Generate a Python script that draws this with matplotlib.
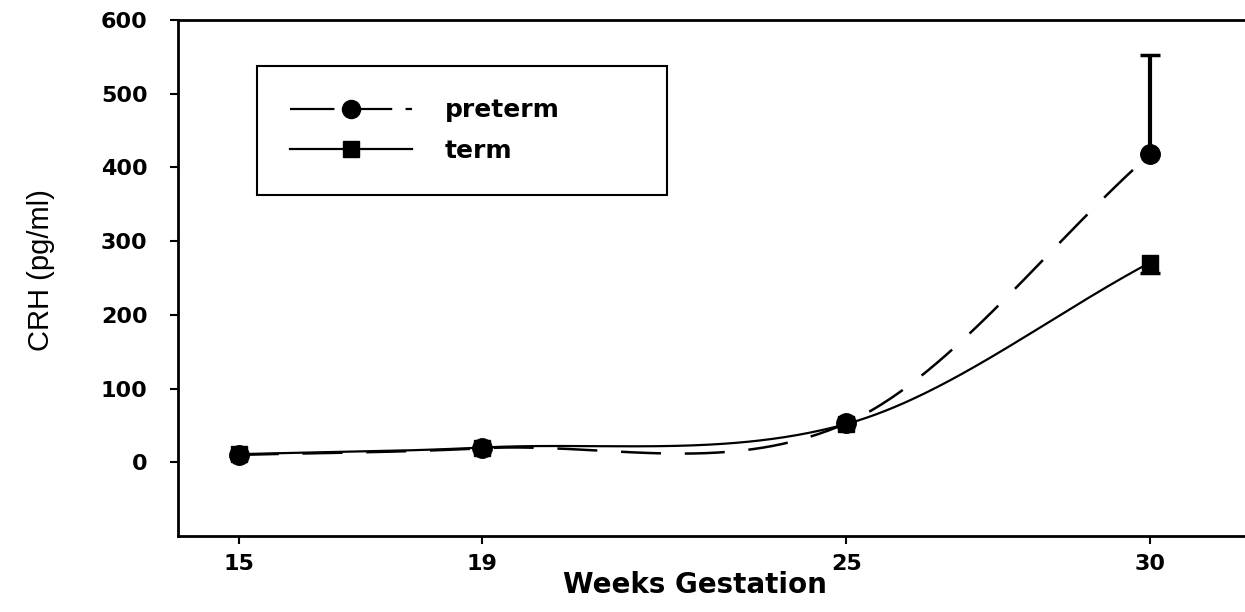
import numpy as np
import matplotlib.pyplot as plt
from matplotlib.lines import Line2D

weeks = [15, 19, 25, 30]
preterm = [10, 19, 53, 418]
term = [11, 20, 52, 271]
# error bars only at week 30: preterm upward, term downward
preterm_err_high = 134
term_err_low = 14

x_ticks = [15, 19, 25, 30]
y_ticks = [0, 100, 200, 300, 400, 500, 600]


def smooth(x, y, n=300):
    # cubic hermite (catmull-rom like) curve through the points
    x = np.asarray(x, float)
    y = np.asarray(y, float)
    m = np.empty_like(y)
    m[1:-1] = (y[2:] - y[:-2]) / (x[2:] - x[:-2])
    m[0] = (y[1] - y[0]) / (x[1] - x[0])
    m[-1] = (y[-1] - y[-2]) / (x[-1] - x[-2])
    xs = np.linspace(x[0], x[-1], n)
    i = np.clip(np.searchsorted(x, xs, side='right') - 1, 0, len(x) - 2)
    h = x[i + 1] - x[i]
    t = (xs - x[i]) / h
    h00 = 2 * t**3 - 3 * t**2 + 1
    h10 = t**3 - 2 * t**2 + t
    h01 = -2 * t**3 + 3 * t**2
    h11 = t**3 - t**2
    ys = h00 * y[i] + h10 * h * m[i] + h01 * y[i + 1] + h11 * h * m[i + 1]
    return xs, ys


W, H = 1245, 612
fig = plt.figure(figsize=(W / 100, H / 100), dpi=100)
ax = fig.add_axes([178 / W, 76 / H, 1 - 178 / W, (536 - 20) / H])

dash = (0, (16, 9.5))

# term: solid curve, squares
xs, ys = smooth(weeks, term)
ax.plot(xs, ys, color='black', lw=1.6, zorder=2)
ax.errorbar(weeks[-1], term[-1], yerr=[[term_err_low], [0]], fmt='none',
            ecolor='black', elinewidth=2, capsize=0, zorder=3)
ax.plot(weeks[-1], term[-1] - term_err_low, marker='_', ms=15, mew=2.5,
        color='black', zorder=3)
ax.plot(weeks, term, 's', ms=11, color='black', zorder=3)

# preterm: dashed curve, circles
xs, ys = smooth(weeks, preterm)
ax.plot(xs, ys, color='black', lw=1.8, ls=dash, zorder=2)
ax.errorbar(weeks[-1], preterm[-1], yerr=[[0], [preterm_err_high]],
            fmt='none', ecolor='black', elinewidth=3, capsize=0, zorder=4)
ax.plot(weeks[-1], preterm[-1] + preterm_err_high, marker='_', ms=15,
        mew=2.5, color='black', zorder=4)
ax.plot(weeks, preterm, 'o', ms=14, color='black', zorder=4)

ax.set_xlim(14.0, 31.56)
ax.set_ylim(-100, 600)
ax.set_xticks(x_ticks)
ax.set_yticks(y_ticks)

for s in ['left', 'bottom', 'top']:
    ax.spines[s].set_linewidth(2)
ax.spines['right'].set_visible(False)

ax.tick_params(axis='both', direction='out', length=6, width=1.5,
               labelsize=16)
ax.tick_params(axis='y', pad=16)
ax.tick_params(axis='x', pad=7)
for lab in ax.get_xticklabels() + ax.get_yticklabels():
    lab.set_fontweight('bold')
    lab.set_family('DejaVu Sans')

ax.set_xlabel('Weeks Gestation', fontsize=20, fontweight='bold',
              family='DejaVu Sans')
ax.xaxis.set_label_coords((695 - 178) / (W - 178), (536 - 571) / 516)
ax.set_ylabel('CRH (pg/ml)', fontsize=21, family='Liberation Sans')
ax.yaxis.set_label_coords((55 - 178) / (W - 178), (536 - 270) / 516)

handles = [
    Line2D([], [], color='black', lw=1.6, ls=(0, (20, 6)), marker='o', ms=13),
    Line2D([], [], color='black', lw=1.6, marker='s', ms=11),
]
leg = ax.legend(handles, ['preterm', 'term'], loc='upper left',
                bbox_to_anchor=(79 / (W - 178), (536 - 66) / 516 - 0.01,
                                410 / (W - 178), 0.01),
                mode='expand', frameon=True, fancybox=False, framealpha=1,
                edgecolor='black', borderpad=1.3, labelspacing=0.65,
                handlelength=4.9, handletextpad=1.3, borderaxespad=0,
                prop={'family': 'DejaVu Sans', 'weight': 'bold', 'size': 18})
leg.get_frame().set_linewidth(1.5)

fig.savefig('out.png', dpi=100)
